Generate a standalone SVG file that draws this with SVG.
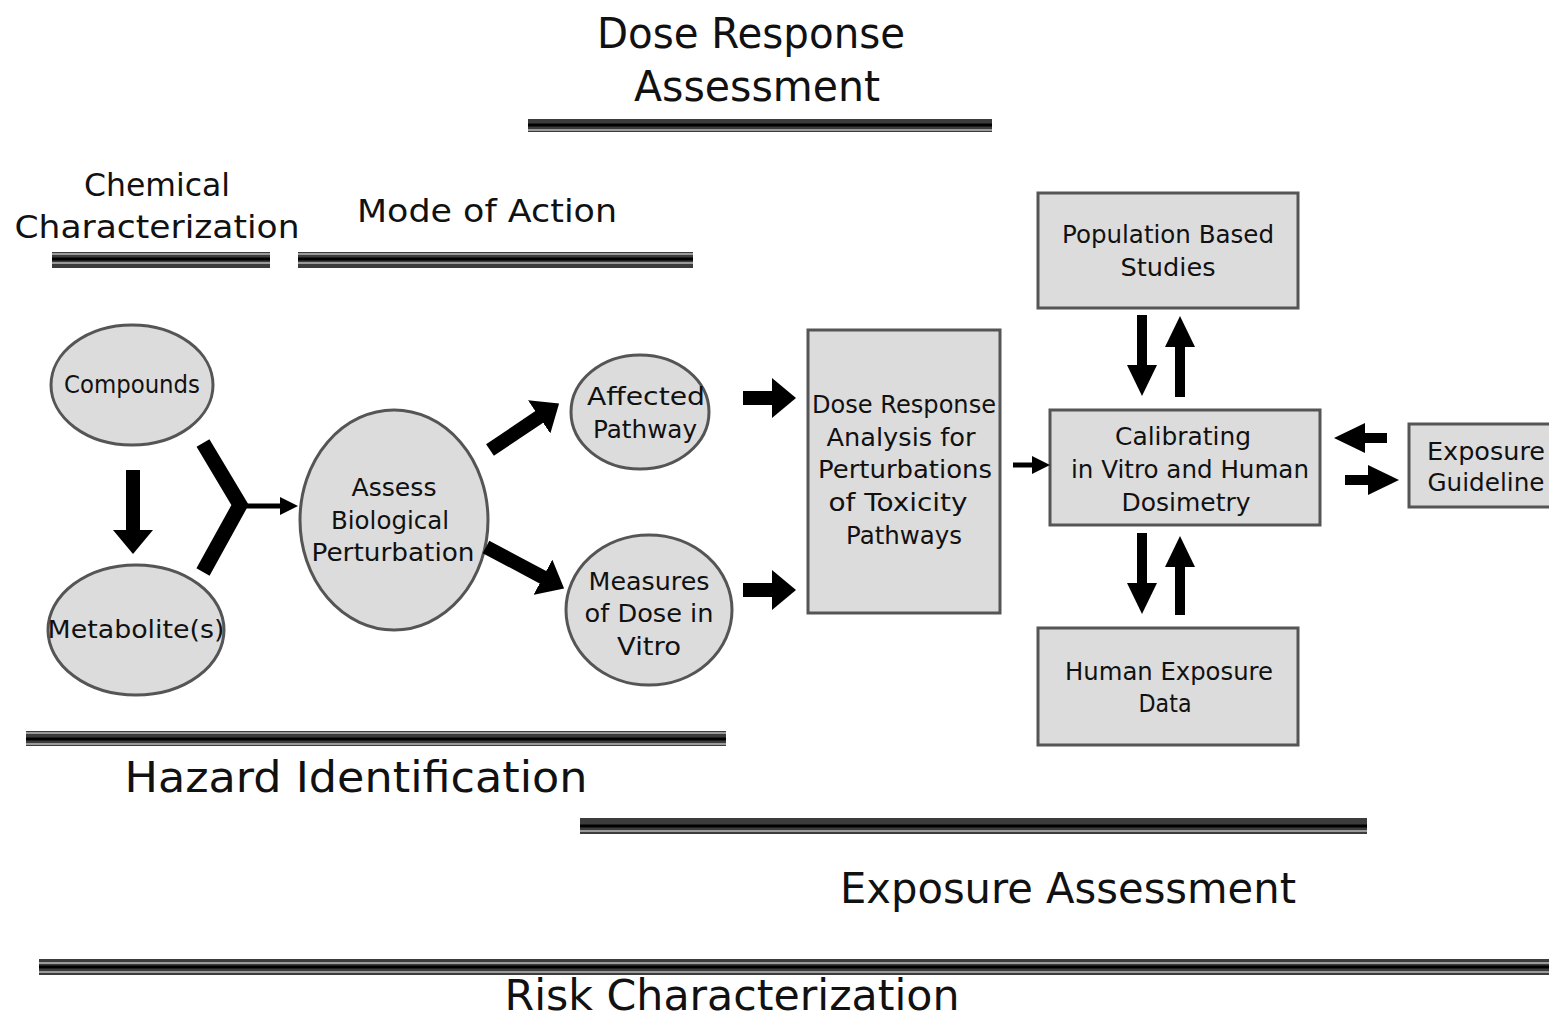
<svg xmlns="http://www.w3.org/2000/svg" width="1549" height="1021" viewBox="0 0 1549 1021">
<style>
text{font-family:"DejaVu Sans","Liberation Sans",sans-serif;fill:#111;text-anchor:middle}
.big{font-size:42px}
.mid{font-size:32px}
.nt{font-size:24px}
.node{fill:#dcdcdc;stroke:#555;stroke-width:3}
.bar rect{fill:#3c3c3c}
.bar .g{stroke:#9a9a9a;stroke-width:2}
.bar .k{stroke:#000;stroke-width:3}
.sh1{stroke:#000;stroke-width:14;fill:none}
.sh2{stroke:#000;stroke-width:10;fill:none}
.sh3{stroke:#000;stroke-width:5;fill:none}
</style>
<defs>
<marker id="hb" markerUnits="userSpaceOnUse" viewBox="0 0 24 40" markerWidth="24" markerHeight="40" refX="1" refY="20" orient="auto"><path d="M0,0 L24,20 L0,40 Z" fill="#000"/></marker>
<marker id="hm" markerUnits="userSpaceOnUse" viewBox="0 0 31 30" markerWidth="31" markerHeight="30" refX="1" refY="15" orient="auto"><path d="M0,0 L31,15 L0,30 Z" fill="#000"/></marker>
<marker id="hs" markerUnits="userSpaceOnUse" viewBox="0 0 18 18" markerWidth="18" markerHeight="18" refX="1" refY="9" orient="auto"><path d="M0,0 L18,9 L0,18 Z" fill="#000"/></marker>
</defs>
<rect width="1549" height="1021" fill="#fff"/>

<g id="labels">
<text class="big" x="751" y="48" textLength="308" lengthAdjust="spacingAndGlyphs">Dose Response</text>
<text class="big" x="757" y="101" textLength="246" lengthAdjust="spacingAndGlyphs">Assessment</text>
<text class="mid" x="157" y="196" textLength="146" lengthAdjust="spacingAndGlyphs">Chemical</text>
<text class="mid" x="157" y="238" textLength="285" lengthAdjust="spacingAndGlyphs">Characterization</text>
<text class="mid" x="487" y="222" textLength="260" lengthAdjust="spacingAndGlyphs">Mode of Action</text>
<text class="big" x="356" y="792" textLength="463" lengthAdjust="spacingAndGlyphs">Hazard Identification</text>
<text class="big" x="1068" y="903" textLength="456" lengthAdjust="spacingAndGlyphs">Exposure Assessment</text>
<text class="big" x="732" y="1010" textLength="455" lengthAdjust="spacingAndGlyphs">Risk Characterization</text>
</g>

<g id="bars">
<g class="bar"><rect x="528" y="119" width="464" height="13"/><line class="k" x1="528" y1="125" x2="992" y2="125"/><line class="g" x1="528" y1="130" x2="992" y2="130"/></g>
<g class="bar"><rect x="52" y="252" width="218" height="16"/><line class="g" x1="52" y1="254" x2="270" y2="254"/><line class="g" x1="52" y1="263" x2="270" y2="263"/><line class="k" x1="52" y1="259" x2="270" y2="259"/></g>
<g class="bar"><rect x="298" y="252" width="395" height="16"/><line class="g" x1="298" y1="254" x2="693" y2="254"/><line class="g" x1="298" y1="263" x2="693" y2="263"/><line class="k" x1="298" y1="259" x2="693" y2="259"/></g>
<g class="bar"><rect x="26" y="731" width="700" height="15"/><line class="g" x1="26" y1="733" x2="726" y2="733"/><line class="k" x1="26" y1="739" x2="726" y2="739"/><line class="g" x1="26" y1="744" x2="726" y2="744"/></g>
<g class="bar"><rect x="580" y="818" width="787" height="16"/><line class="k" x1="580" y1="826" x2="1367" y2="826"/><line class="g" x1="580" y1="831" x2="1367" y2="831"/></g>
<g class="bar"><rect x="39" y="959" width="1510" height="16"/><line class="g" x1="39" y1="963" x2="1549" y2="963"/><line class="k" x1="39" y1="967" x2="1549" y2="967"/><line class="g" x1="39" y1="972" x2="1549" y2="972"/></g>
</g>

<g id="n-compounds"><ellipse class="node" cx="132" cy="385" rx="81" ry="60"/><text class="nt" x="132" y="393" textLength="136" lengthAdjust="spacingAndGlyphs">Compounds</text></g>
<g id="n-metabolites"><ellipse class="node" cx="136" cy="630" rx="88" ry="65"/><text class="nt" x="136" y="638" textLength="177" lengthAdjust="spacingAndGlyphs">Metabolite(s)</text></g>
<g id="n-assess"><ellipse class="node" cx="394" cy="520" rx="94" ry="110"/>
<text class="nt" x="394" y="496" textLength="85" lengthAdjust="spacingAndGlyphs">Assess</text>
<text class="nt" x="390" y="529" textLength="118" lengthAdjust="spacingAndGlyphs">Biological</text>
<text class="nt" x="393" y="561" textLength="163" lengthAdjust="spacingAndGlyphs">Perturbation</text></g>
<g id="n-affected"><ellipse class="node" cx="640" cy="412" rx="69" ry="57"/>
<text class="nt" x="646" y="405" textLength="118" lengthAdjust="spacingAndGlyphs">Affected</text>
<text class="nt" x="645" y="438" textLength="104" lengthAdjust="spacingAndGlyphs">Pathway</text></g>
<g id="n-measures"><ellipse class="node" cx="649" cy="610" rx="83" ry="75"/>
<text class="nt" x="649" y="590" textLength="121" lengthAdjust="spacingAndGlyphs">Measures</text>
<text class="nt" x="649" y="622" textLength="129" lengthAdjust="spacingAndGlyphs">of Dose in</text>
<text class="nt" x="649" y="655" textLength="64" lengthAdjust="spacingAndGlyphs">Vitro</text></g>
<g id="n-doseresponse"><rect class="node" x="808" y="330" width="192" height="283"/>
<text class="nt" x="904" y="413" textLength="184" lengthAdjust="spacingAndGlyphs">Dose Response</text>
<text class="nt" x="901" y="446" textLength="149" lengthAdjust="spacingAndGlyphs">Analysis for</text>
<text class="nt" x="905" y="478" textLength="174" lengthAdjust="spacingAndGlyphs">Perturbations</text>
<text class="nt" x="898" y="511" textLength="139" lengthAdjust="spacingAndGlyphs">of Toxicity</text>
<text class="nt" x="904" y="544" textLength="116" lengthAdjust="spacingAndGlyphs">Pathways</text></g>
<g id="n-population"><rect class="node" x="1038" y="193" width="260" height="115"/>
<text class="nt" x="1168" y="243" textLength="212" lengthAdjust="spacingAndGlyphs">Population Based</text>
<text class="nt" x="1168" y="276" textLength="95" lengthAdjust="spacingAndGlyphs">Studies</text></g>
<g id="n-calibrating"><rect class="node" x="1050" y="410" width="270" height="115"/>
<text class="nt" x="1183" y="445" textLength="136" lengthAdjust="spacingAndGlyphs">Calibrating</text>
<text class="nt" x="1190" y="478" textLength="238" lengthAdjust="spacingAndGlyphs">in Vitro and Human</text>
<text class="nt" x="1186" y="511" textLength="129" lengthAdjust="spacingAndGlyphs">Dosimetry</text></g>
<g id="n-humanexposure"><rect class="node" x="1038" y="628" width="260" height="117"/>
<text class="nt" x="1169" y="680" textLength="208" lengthAdjust="spacingAndGlyphs">Human Exposure</text>
<text class="nt" x="1165" y="712" textLength="53" lengthAdjust="spacingAndGlyphs">Data</text></g>
<g id="n-guideline"><rect class="node" x="1409" y="424" width="145" height="83"/>
<text class="nt" x="1486" y="460" textLength="118" lengthAdjust="spacingAndGlyphs">Exposure</text>
<text class="nt" x="1486" y="491" textLength="117" lengthAdjust="spacingAndGlyphs">Guideline</text></g>

<g id="connectors">
<line class="sh1" x1="133" y1="470" x2="133" y2="531" marker-end="url(#hb)"/>
<polyline points="203,443 240,505 203,572" style="stroke:#000;stroke-width:15;fill:none;stroke-linejoin:miter"/>
<line class="sh3" x1="240" y1="506" x2="281" y2="506" marker-end="url(#hs)"/>
<line class="sh1" x1="490" y1="450" x2="540" y2="416.4" marker-end="url(#hb)"/>
<line class="sh1" x1="486" y1="547" x2="543.8" y2="577.7" marker-end="url(#hb)"/>
<line class="sh1" x1="743" y1="398" x2="773" y2="398" marker-end="url(#hb)"/>
<line class="sh1" x1="743" y1="590" x2="773" y2="590" marker-end="url(#hb)"/>
<line class="sh3" x1="1013" y1="465" x2="1033" y2="465" marker-end="url(#hs)"/>
<line class="sh2" x1="1142" y1="315" x2="1142" y2="366" marker-end="url(#hm)"/>
<line class="sh2" x1="1180" y1="397" x2="1180" y2="346" marker-end="url(#hm)"/>
<line class="sh2" x1="1142" y1="533" x2="1142" y2="584" marker-end="url(#hm)"/>
<line class="sh2" x1="1180" y1="615" x2="1180" y2="566" marker-end="url(#hm)"/>
<line class="sh2" x1="1387" y1="438" x2="1364" y2="438" marker-end="url(#hm)"/>
<line class="sh2" x1="1345" y1="480" x2="1369" y2="480" marker-end="url(#hm)"/>
</g>
</svg>
